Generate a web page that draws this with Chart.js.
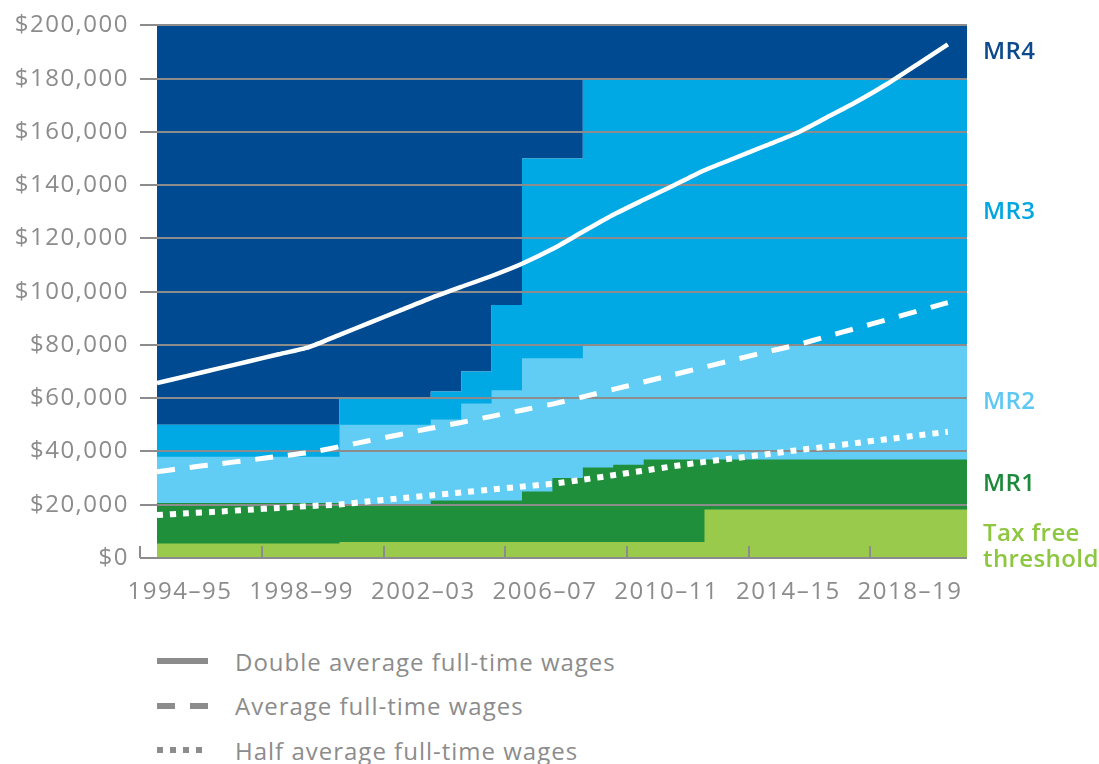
<!DOCTYPE html>
<html>
<head>
<meta charset="utf-8">
<script src="https://cdn.jsdelivr.net/npm/chart.js@4/dist/chart.umd.min.js"></script>
<style>
  html, body { margin: 0; padding: 0; background: #fff; }
  #wrap { position: relative; width: 1099px; height: 764px; overflow: hidden; }
  #chart { position: absolute; left: 0; top: 0; }
  #legend { position: absolute; left: 157px; top: 639px; font-family: 'Open Sans', sans-serif; font-size: 24px; color: #8c8c8c; letter-spacing: 1px; }
  .item { display: flex; align-items: center; height: 44.5px; }
  .item svg { margin-right: 27px; }
</style>
</head>
<body>
<div id="wrap">
  <canvas id="chart" width="1099" height="620"></canvas>
  <div id="legend"></div>
</div>
<script>
// financial years, by starting year (1994 = 1994–95)
const years = [1994, 1995, 1996, 1997, 1998, 1999, 2000, 2001, 2002, 2003, 2004, 2005, 2006, 2007,
               2008, 2009, 2010, 2011, 2012, 2013, 2014, 2015, 2016, 2017, 2018, 2019, 2020, 2021];
const tickYears = [1994, 1998, 2002, 2006, 2010, 2014, 2018];

// income where each marginal rate starts
const taxFree = [5400, 5400, 5400, 5400, 5400, 5400, 6000, 6000, 6000, 6000, 6000, 6000, 6000, 6000,
                 6000, 6000, 6000, 6000, 18200, 18200, 18200, 18200, 18200, 18200, 18200, 18200, 18200, 18200];
const mr2From = [20700, 20700, 20700, 20700, 20700, 20700, 20000, 20000, 20000, 21600, 21600, 21600, 25000, 30000,
                 34000, 35000, 37000, 37000, 37000, 37000, 37000, 37000, 37000, 37000, 37000, 37000, 37000, 37000];
const mr3From = [38000, 38000, 38000, 38000, 38000, 38000, 50000, 50000, 50000, 52000, 58000, 63000, 75000, 75000,
                 80000, 80000, 80000, 80000, 80000, 80000, 80000, 80000, 80000, 80000, 80000, 80000, 80000, 80000];
const mr4From = [50000, 50000, 50000, 50000, 50000, 50000, 60000, 60000, 60000, 62500, 70000, 95000, 150000, 150000,
                 180000, 180000, 180000, 180000, 180000, 180000, 180000, 180000, 180000, 180000, 180000, 180000, 180000, 180000];

// wages, 1994–95 to 2020–21
const doubleWages = [65700, 68400, 71100, 73800, 76500, 79200, 83800, 88400, 93000, 97600, 101800, 105900, 110500, 116000,
                     122500, 128900, 134500, 140000, 145600, 150200, 154800, 159400, 165300, 171300, 178000, 185400, 192900];
const avgWages = [32400, 33900, 35300, 36700, 38200, 39600, 41800, 44100, 46400, 48700, 50900, 53200, 55500, 57800,
                  60500, 63300, 66100, 68900, 71700, 74500, 77300, 79900, 83100, 86300, 89500, 92700, 95900];
const halfWages = [16100, 16800, 17400, 18100, 18800, 19500, 20100, 21300, 22400, 23500, 24600, 25700, 26800, 27900,
                   29400, 31100, 32800, 34500, 36100, 37500, 38900, 40400, 41800, 43200, 44600, 46000, 47400];

const gray = '#8c8c8c';
const pts = vals => vals.map((v, i) => ({ x: years[i], y: v }));

function band(label, vals, color, fill) {
  return { label, data: pts(vals), backgroundColor: color, borderWidth: 0, pointRadius: 0,
           stepped: 'before', fill };
}
function wage(label, vals, dash, width) {
  return { label, data: pts(vals), borderColor: '#ffffff', borderWidth: width, borderDash: dash,
           pointRadius: 0, fill: false, tension: 0.2 };
}

// bands, top to bottom, for the labels at the right
const bandLabels = [
  { text: ['MR4'], color: '#0d4a8c', lo: mr4From, hi: null },
  { text: ['MR3'], color: '#00a6e2', lo: mr3From, hi: mr4From },
  { text: ['MR2'], color: '#5ec8f2', lo: mr2From, hi: mr3From },
  { text: ['MR1'], color: '#1d8a3b', lo: taxFree, hi: mr2From },
  { text: ['Tax free', 'threshold'], color: '#8dc63f', lo: null, hi: taxFree }
];

const extras = {
  id: 'extras',
  beforeLayout(chart) { chart.ctx.letterSpacing = '1.5px'; },
  beforeDraw(chart) { chart.ctx.letterSpacing = '1.5px'; },
  // grid lines go over the coloured bands but under the wage lines
  beforeDatasetDraw(chart, args) {
    if (args.index !== 2) return;
    const { ctx, chartArea: a, scales: { y } } = chart;
    ctx.save();
    ctx.strokeStyle = gray;
    ctx.lineWidth = 2;
    y.ticks.forEach(t => {
      const py = Math.round(y.getPixelForValue(t.value));
      ctx.beginPath();
      ctx.moveTo(a.left - 17, py);
      ctx.lineTo(a.right, py);
      ctx.stroke();
    });
    ctx.restore();
  },
  afterDraw(chart) {
    const { ctx, chartArea: a, scales: { x, y } } = chart;
    ctx.save();
    // small upward tick marks on the year axis
    ctx.strokeStyle = gray;
    ctx.lineWidth = 2;
    tickYears.forEach(v => {
      const px = Math.round(x.getPixelForValue(v - 0.55));
      ctx.beginPath();
      ctx.moveTo(px, a.bottom);
      ctx.lineTo(px, a.bottom - 12);
      ctx.stroke();
    });
    // rate labels beside the last year
    const last = years.length - 1;
    ctx.letterSpacing = '0.4px';
    ctx.font = '600 24px "Open Sans"';
    ctx.textBaseline = 'middle';
    ctx.textAlign = 'left';
    bandLabels.forEach(b => {
      const lo = b.lo ? b.lo[last] : y.min;
      const hi = b.hi ? b.hi[last] : y.max;
      const py = y.getPixelForValue((lo + hi) / 2);
      ctx.fillStyle = b.color;
      b.text.forEach((t, i) => ctx.fillText(t, a.right + 16, py + i * 26));
    });
    ctx.restore();
  }
};

const chart = new Chart(document.getElementById('chart'), {
  type: 'line',
  data: {
    datasets: [
      wage('Double average full-time wages', doubleWages, [], 4.5),
      wage('Average full-time wages', avgWages, [18, 15], 5),
      wage('Half average full-time wages', halfWages, [6, 7], 6),
      band('Tax free threshold', taxFree, '#9aca4c', 'origin'),
      band('MR1', mr2From, '#1f8f3c', 'origin'),
      band('MR2', mr3From, '#62cdf4', 'origin'),
      band('MR3', mr4From, '#00a8e4', 'origin'),
      band('MR4', mr4From, '#004a91', 'end')
    ]
  },
  options: {
    responsive: false,
    animation: false,
    layout: { padding: { top: 7, right: 132, bottom: 0, left: 0 } },
    plugins: { legend: { display: false }, tooltip: { enabled: false } },
    scales: {
      x: {
        type: 'linear',
        min: 1994,
        max: 2020.63,
        afterBuildTicks: s => { s.ticks = tickYears.map(v => ({ value: v })); },
        afterFit: s => { s.height = 62; },
        grid: { display: false, drawTicks: false },
        border: { display: false },
        ticks: {
          color: gray,
          font: { family: 'Open Sans', size: 24 },
          padding: 20,
          labelOffset: 23,
          maxRotation: 0,
          autoSkip: false,
          callback: v => v + '–' + String(v + 1).slice(2)
        }
      },
      y: {
        min: 0,
        max: 200000,
        afterFit: s => { s.width = 157; },
        grid: { display: true, drawOnChartArea: false, drawTicks: true, tickLength: 17, tickColor: 'rgba(0,0,0,0)' },
        border: { display: false },
        ticks: {
          stepSize: 20000,
          color: gray,
          font: { family: 'Open Sans', size: 24 },
          padding: 11,
          callback: v => '$' + v.toLocaleString('en-US')
        }
      }
    }
  },
  plugins: [extras]
});

// legend for the three wage lines
const legendEl = document.getElementById('legend');
chart.data.datasets.slice(0, 3).forEach(ds => {
  const row = document.createElement('div');
  row.className = 'item';
  const dash = ds.borderDash.join(' ');
  row.innerHTML = '<svg width="51" height="8"><line x1="0" y1="4" x2="51" y2="4" stroke="' + gray +
    '" stroke-width="6" stroke-dasharray="' + dash + '"/></svg><span>' + ds.label + '</span>';
  legendEl.appendChild(row);
});
</script>
</body>
</html>
